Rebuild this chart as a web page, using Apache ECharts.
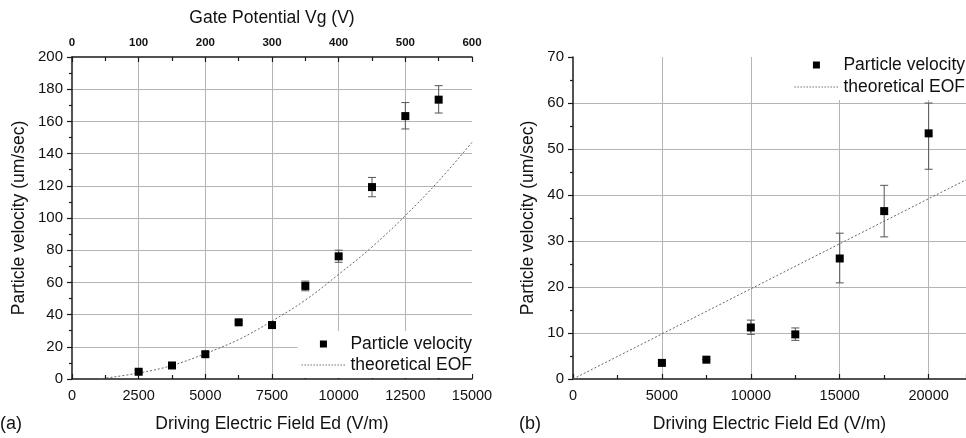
<!DOCTYPE html>
<html>
<head>
<meta charset="utf-8">
<script src="https://cdn.jsdelivr.net/npm/echarts@6/dist/echarts.min.js"></script>
<style>html,body{margin:0;padding:0;background:#fff;}#c{width:966px;height:438px;}</style>
</head>
<body>
<div id="c"></div>
<script>
// ---- Panel (a) data ----
const aFieldX   = [2500, 3750, 5000, 6250, 7500, 8750, 10000, 11250, 12500, 13750];
const aVelocity = [4.5, 8.4, 15.4, 35.2, 33.5, 57.8, 76.2, 119.2, 163.3, 173.5];
const aErrLow   = [3.5, 7.4, 14.0, 34.2, 32.5, 54.8, 72.5, 113.2, 155.3, 165.2];
const aErrHigh  = [5.5, 9.4, 16.8, 36.2, 34.5, 60.8, 80.0, 125.2, 171.7, 182.2];
const aEofX     = [1000, 2500, 3750, 5000, 6250, 7500, 8750, 10000, 11250, 12500, 13750, 15000];
const aEofY     = [0, 3.7, 8.4, 15.8, 24.5, 36, 49, 65, 82, 101.5, 123, 147];
const aTopTicks = [0, 100, 200, 300, 400, 500, 600];

// ---- Panel (b) data ----
const bFieldX   = [5000, 7500, 10000, 12500, 15000, 17500, 20000];
const bVelocity = [3.5, 4.2, 11.2, 9.7, 26.2, 36.5, 53.4];
const bErrLow   = [3.5, 4.2, 9.7, 8.4, 20.9, 30.9, 45.6];
const bErrHigh  = [3.5, 4.2, 12.8, 11.1, 31.7, 42.1, 60.0];
const bEofX     = [0, 5000, 10000, 15000, 20000, 22100];
const bEofY     = [0, 9.8, 19.6, 29.4, 39.2, 43.3];

const FONT = "'Liberation Sans', Arial, sans-serif";
const AX = '#1a1a1a';
const GRID = '#b4b4b4';

function pairs(xs, ys) { return xs.map((x, i) => [x, ys[i]]); }
function errData(xs, lo, hi) { return xs.map((x, i) => [x, lo[i], hi[i]]); }
const plain = v => String(v);

function errSeries(xi, yi, data) {
  return {
    type: 'custom', xAxisIndex: xi, yAxisIndex: yi, z: 3, silent: true,
    data: data,
    encode: { x: 0, y: [1, 2] },
    renderItem: function (params, api) {
      const x = api.value(0);
      const lo = api.coord([x, api.value(1)]);
      const hi = api.coord([x, api.value(2)]);
      const w = 4;
      const st = { stroke: '#555', lineWidth: 1, fill: null };
      return {
        type: 'group',
        children: [
          { type: 'line', shape: { x1: lo[0], y1: lo[1], x2: hi[0], y2: hi[1] }, style: st },
          { type: 'line', shape: { x1: lo[0] - w, y1: lo[1], x2: lo[0] + w, y2: lo[1] }, style: st },
          { type: 'line', shape: { x1: hi[0] - w, y1: hi[1], x2: hi[0] + w, y2: hi[1] }, style: st }
        ]
      };
    }
  };
}

const labelStyle = { fontFamily: FONT, fontSize: 14.5, color: '#111' };
const nameStyle = { fontFamily: FONT, fontSize: 17.5, color: '#111' };

function xBottom(gi, max, interval, showMax) {
  return {
    type: 'value', gridIndex: gi, position: 'bottom', min: 0, max: max, interval: interval,
    name: 'Driving Electric Field Ed (V/m)', nameLocation: 'middle', nameGap: 36,
    nameTextStyle: nameStyle,
    axisLine: { show: true, onZero: false, lineStyle: { color: AX, width: 1.5 } },
    axisTick: { show: true, inside: true, length: 5, lineStyle: { color: AX, width: 1.2 } },
    minorTick: { show: true, splitNumber: 2, length: 4, lineStyle: { color: AX, width: 1.2 } },
    axisLabel: Object.assign({ margin: 9, showMaxLabel: showMax, formatter: plain }, labelStyle),
    splitLine: { show: true, showMinLine: false, showMaxLine: false, lineStyle: { color: GRID, width: 1 } },
    minorSplitLine: { show: false }
  };
}
function yLeft(gi, max, interval) {
  return {
    type: 'value', gridIndex: gi, position: 'left', min: 0, max: max, interval: interval,
    name: 'Particle velocity (um/sec)', nameLocation: 'middle',
    nameTextStyle: nameStyle,
    axisLine: { show: true, onZero: false, lineStyle: { color: AX, width: 1.5 } },
    axisTick: { show: true, inside: false, length: 5, lineStyle: { color: AX, width: 1.2 } },
    minorTick: { show: true, splitNumber: 2, length: 3, lineStyle: { color: AX, width: 1.2 } },
    axisLabel: Object.assign({ margin: 9, formatter: plain }, labelStyle, { fontSize: 15 }),
    splitLine: { show: true, showMinLine: false, showMaxLine: false, lineStyle: { color: GRID, width: 1 } }
  };
}

const xa = xBottom(0, 15000, 2500, true);
const xb = xBottom(1, 22100, 5000, false);
const ya = yLeft(0, 200, 20); ya.nameGap = 44;
const yb = yLeft(1, 70, 10); yb.nameGap = 36;

const xTop = {
  type: 'value', gridIndex: 0, position: 'top', min: aTopTicks[0], max: aTopTicks[aTopTicks.length - 1],
  interval: aTopTicks[1] - aTopTicks[0],
  name: 'Gate Potential Vg (V)', nameLocation: 'middle', nameGap: 30,
  nameTextStyle: nameStyle,
  axisLine: { show: true, onZero: false, lineStyle: { color: AX, width: 1.5 } },
  axisTick: { show: true, inside: true, length: 5, lineStyle: { color: AX, width: 1.2 } },
  minorTick: { show: true, splitNumber: 2, length: 4, lineStyle: { color: AX, width: 1.2 } },
  axisLabel: { margin: 8, fontFamily: FONT, fontSize: 11.5, fontWeight: 'bold', color: '#111', formatter: plain },
  splitLine: { show: false }
};

const sqIcon = 'path://M0,0M44,7M18.5,0h7v7h-7z';
let dotPath = 'path://M0,0M44,7';
for (let px = 0; px < 44; px += 3) dotPath += 'M' + px + ',3h1.6v1h-1.6z';

const legendItems = [
  { name: 'Particle velocity', icon: sqIcon, itemStyle: { color: '#000', opacity: 1 } },
  { name: 'theoretical EOF', icon: dotPath, itemStyle: { color: '#777', opacity: 1 } }
];

const option = {
  animation: false,
  backgroundColor: '#fff',
  textStyle: { fontFamily: FONT },
  title: [
    { text: '(a)', left: 0, top: 415, padding: 0, textStyle: { fontFamily: FONT, fontSize: 18, fontWeight: 'normal', color: '#111' } },
    { text: '(b)', left: 519, top: 415, padding: 0, textStyle: { fontFamily: FONT, fontSize: 18, fontWeight: 'normal', color: '#111' } }
  ],
  grid: [
    { left: 72, top: 57, width: 400, height: 325 },
    { left: 573, top: 57, width: 393, height: 325 }
  ],
  legend: [
    {
      orient: 'vertical', right: 494, top: 331, itemGap: 1, itemWidth: 44, itemHeight: 7,
      backgroundColor: '#fff', padding: [3, 0, 3, 4], align: 'left',
      textStyle: { fontFamily: FONT, fontSize: 17.5, color: '#111', lineHeight: 20 },
      data: legendItems, selectedMode: false
    },
    {
      orient: 'vertical', right: 1, top: 55, itemGap: 2, itemWidth: 44, itemHeight: 7,
      backgroundColor: '#fff', padding: [0, 0, 3, 4], align: 'left',
      textStyle: { fontFamily: FONT, fontSize: 17.5, color: '#111', lineHeight: 20 },
      data: legendItems, selectedMode: false
    }
  ],
  xAxis: [xa, xTop, xb],
  yAxis: [ya, yb],
  series: [
    {
      name: 'theoretical EOF', type: 'line', xAxisIndex: 0, yAxisIndex: 0, smooth: 0.4,
      showSymbol: false, symbol: 'none', z: 2,
      lineStyle: { color: '#666', width: 1, type: [2, 2] },
      itemStyle: { color: '#666' },
      data: pairs(aEofX, aEofY)
    },
    errSeries(0, 0, errData(aFieldX, aErrLow, aErrHigh)),
    {
      name: 'Particle velocity', type: 'scatter', xAxisIndex: 0, yAxisIndex: 0, z: 4,
      symbol: 'rect', symbolSize: 8, itemStyle: { color: '#000', opacity: 1 },
      data: pairs(aFieldX, aVelocity)
    },
    {
      name: 'theoretical EOF', type: 'line', xAxisIndex: 2, yAxisIndex: 1,
      showSymbol: false, symbol: 'none', z: 2,
      lineStyle: { color: '#666', width: 1, type: [2, 2] },
      itemStyle: { color: '#666' },
      data: pairs(bEofX, bEofY)
    },
    errSeries(2, 1, errData(bFieldX, bErrLow, bErrHigh)),
    {
      name: 'Particle velocity', type: 'scatter', xAxisIndex: 2, yAxisIndex: 1, z: 4,
      symbol: 'rect', symbolSize: 8, itemStyle: { color: '#000', opacity: 1 },
      data: pairs(bFieldX, bVelocity)
    }
  ]
};

const chart = echarts.init(document.getElementById('c'), null, { renderer: 'canvas' });
chart.setOption(option);
</script>
</body>
</html>
